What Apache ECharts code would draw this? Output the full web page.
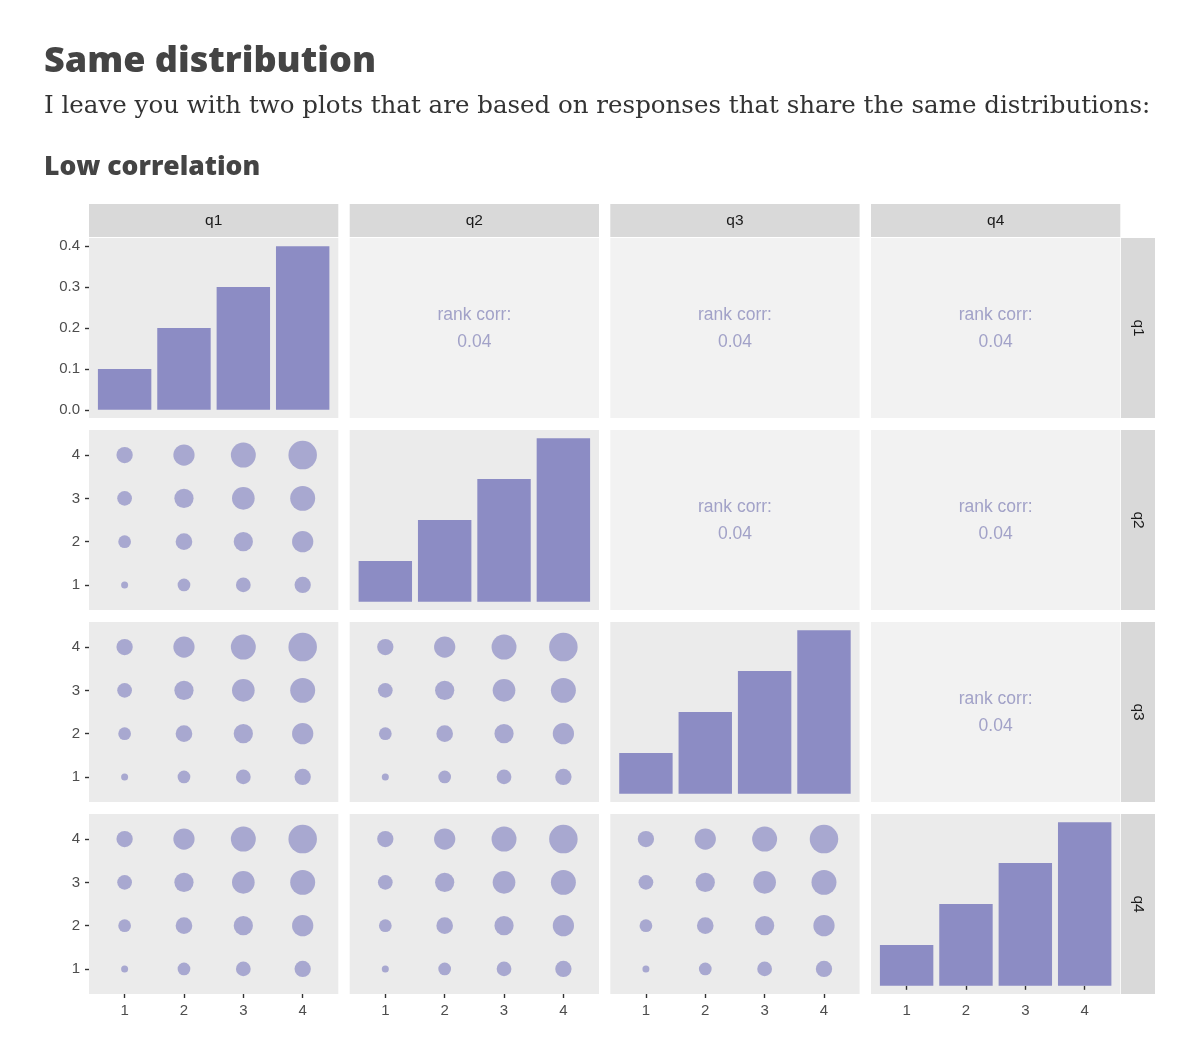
<!DOCTYPE html>
<html><head><meta charset="utf-8">
<script src="https://cdn.jsdelivr.net/npm/echarts@6/dist/echarts.min.js"></script>
<style>html,body{margin:0;padding:0;background:#fff}#c{width:1200px;height:1063px}</style>
</head><body><div id="c"></div>
<script>
// ---- data ----
const variables = ['q1', 'q2', 'q3', 'q4'];
const levels = [1, 2, 3, 4];
const proportions = [0.1, 0.2, 0.3, 0.4];
const propTicks = [0, 0.1, 0.2, 0.3, 0.4];
const levelTicks = [1, 2, 3, 4];
// jointCounts[yLevel-1][xLevel-1]
const jointCounts = [
  [10, 21, 30, 39],
  [21, 41, 60, 78],
  [30, 60, 92, 118],
  [39, 78, 118, 165]
];
const rankCorr = ['rank corr:', '0.04'];
const titleText = 'Same distribution';
const subtitleText = 'I leave you with two plots that are based on responses that share the same distributions:';
const sectionText = 'Low correlation';

// ---- layout / style ----
const panelLeft = [89, 349.7, 610.3, 871];
const panelTop = [238, 430, 622, 814];
const panelW = 249.3, panelH = 180;
const barColor = '#8c8cc4';
const lowerBg = '#ebebeb', upperBg = '#f2f2f2', stripBg = '#d9d9d9';
const labelFont = 'Liberation Sans, Arial, sans-serif';

const allCounts = jointCounts.flat();
const cMin = Math.min(...allCounts), cMax = Math.max(...allCounts);
const dMin = 7, dMax = 28.5;
function dotSize(n) { return dMin + (dMax - dMin) * Math.sqrt((n - cMin) / (cMax - cMin)); }

const tickStyle = { color: '#333', width: 1.4 };
const labelStyle = { margin: 9, color: '#4d4d4d', fontSize: 15, fontFamily: labelFont };

const grids = [], xAxes = [], yAxes = [], series = [], graphics = [];
let gi = 0;
for (let r = 0; r < 4; r++) {
  for (let c = 0; c < 4; c++) {
    const upper = c > r, diag = c === r;
    grids.push({ left: panelLeft[c], top: panelTop[r], width: panelW, height: panelH,
      show: true, backgroundColor: upper ? upperBg : lowerBg, borderWidth: 0 });
    const showX = r === 3, showY = c === 0;
    xAxes.push({ gridIndex: gi, type: 'value', min: 0.4, max: 4.6,
      axisLine: { show: false }, splitLine: { show: false },
      axisTick: { show: showX, length: 4, lineStyle: tickStyle, customValues: levelTicks },
      axisLabel: Object.assign({ show: showX, customValues: levelTicks }, labelStyle) });
    if (diag) {
      yAxes.push({ gridIndex: gi, type: 'value', min: -0.02, max: 0.42,
        axisLine: { show: false }, splitLine: { show: false },
        axisTick: { show: showY, length: 4, lineStyle: tickStyle, customValues: propTicks },
        axisLabel: Object.assign({ show: showY, customValues: propTicks, formatter: v => v.toFixed(1) }, labelStyle) });
      series.push({ type: 'bar', xAxisIndex: gi, yAxisIndex: gi,
        barWidth: 0.9 * panelW / 4.2, itemStyle: { color: barColor },
        data: levels.map((l, i) => [l, proportions[i]]) });
    } else {
      yAxes.push({ gridIndex: gi, type: 'value', min: 0.42, max: 4.58,
        axisLine: { show: false }, splitLine: { show: false },
        axisTick: { show: showY, length: 4, lineStyle: tickStyle, customValues: levelTicks },
        axisLabel: Object.assign({ show: showY, customValues: levelTicks }, labelStyle) });
      if (!upper) {
        const pts = [];
        levels.forEach((yl, yi) => levels.forEach((xl, xi) => pts.push([xl, yl, jointCounts[yi][xi]])));
        series.push({ type: 'scatter', xAxisIndex: gi, yAxisIndex: gi,
          symbolSize: v => dotSize(v[2]),
          itemStyle: { color: barColor, opacity: 0.7 }, data: pts });
      } else {
        series.push({ type: 'scatter', xAxisIndex: gi, yAxisIndex: gi, symbolSize: 0,
          silent: true, data: [[2.5, 2.48]],
          label: { show: true, position: 'inside', formatter: rankCorr.join('\n'),
            color: '#8d8dbd', fontSize: 17.5, lineHeight: 27, fontFamily: labelFont } });
      }
    }
    gi++;
  }
}

// strips
for (let c = 0; c < 4; c++) {
  graphics.push({ type: 'rect', shape: { x: panelLeft[c], y: 204, width: panelW, height: 33 }, style: { fill: stripBg } });
  graphics.push({ type: 'text', x: panelLeft[c] + panelW / 2, y: 221,
    style: { text: variables[c], fill: '#1a1a1a', font: '15.5px ' + labelFont, textAlign: 'center', textVerticalAlign: 'middle' } });
}
for (let r = 0; r < 4; r++) {
  graphics.push({ type: 'rect', shape: { x: 1121, y: panelTop[r], width: 34, height: panelH }, style: { fill: stripBg } });
  graphics.push({ type: 'text', x: 1138, y: panelTop[r] + panelH / 2, rotation: -Math.PI / 2,
    style: { text: variables[r], fill: '#1a1a1a', font: '15.5px ' + labelFont, textAlign: 'center', textVerticalAlign: 'middle' } });
}

const option = {
  backgroundColor: '#ffffff',
  animation: false,
  title: [
    { text: titleText, left: 39, top: 39, textStyle: { fontFamily: 'Open Sans', fontWeight: 800, fontSize: 36, color: '#444444' } },
    { text: subtitleText, left: 39, top: 89, textStyle: { fontFamily: 'DejaVu Serif', fontWeight: 'normal', fontSize: 24.5, color: '#333333' } },
    { text: sectionText, left: 39, top: 149, textStyle: { fontFamily: 'Open Sans', fontWeight: 800, fontSize: 26.5, color: '#444444' } }
  ],
  grid: grids, xAxis: xAxes, yAxis: yAxes, series: series,
  graphic: { elements: graphics }
};
const chart = echarts.init(document.getElementById('c'));
chart.setOption(option);
</script></body></html>
